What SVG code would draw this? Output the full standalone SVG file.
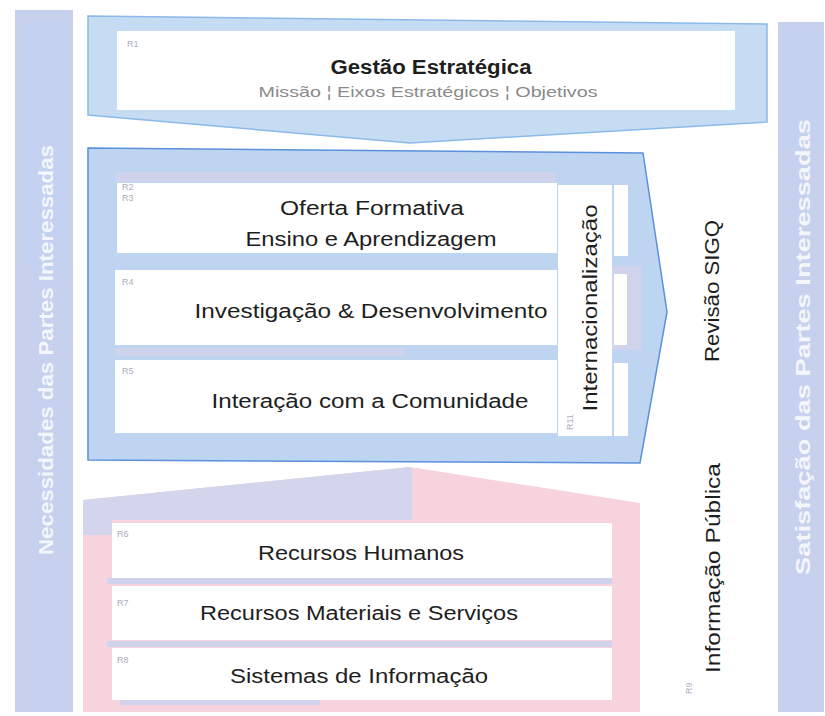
<svg xmlns="http://www.w3.org/2000/svg" width="825" height="716" viewBox="0 0 825 716">
<style>
.t{font-family:"Liberation Sans","DejaVu Sans",sans-serif;font-size:20px;fill:#1e1e1e;text-anchor:middle}
.b{font-weight:bold}
.sub{font-family:"Liberation Sans",sans-serif;font-size:15px;fill:#8a8a8a;text-anchor:middle}
.side{font-family:"Liberation Sans",sans-serif;font-size:20px;font-weight:bold;fill:#f4f6fc;text-anchor:middle}
.r{font-family:"Liberation Sans",sans-serif;font-size:9px;fill:#a9aec0}
.box{fill:#ffffff}
.lav{fill:#cfd3ec}
</style>
<rect width="825" height="716" fill="#ffffff"/>

<g id="necessidades">
<rect x="15" y="10" width="58" height="702" fill="#c7d0ed"/>
<rect x="22" y="20" width="44" height="250" fill="#c1d2f2" opacity="0.6"/>
<text class="side" transform="translate(53,350) rotate(-90)" textLength="410" lengthAdjust="spacingAndGlyphs">Necessidades das Partes Interessadas</text>
</g>

<g id="satisfacao">
<rect x="778" y="22" width="46" height="690" fill="#c7d0ed"/>
<rect x="782" y="30" width="38" height="120" fill="#c1d4f2" opacity="0.6"/>
<text class="side" transform="translate(810,347) rotate(-90)" textLength="456" lengthAdjust="spacingAndGlyphs">Satisfação das Partes Interessadas</text>
</g>

<g id="gestao">
<polygon points="88,16 767,24 767,122 410,143 88,115" fill="#c6dcf3" stroke="#8db9ea" stroke-width="1.5"/>
<rect x="117" y="31" width="618" height="79" class="box"/>
<text class="r" x="127" y="47">R1</text>
<text class="t b" x="431" y="74" textLength="201" lengthAdjust="spacingAndGlyphs">Gestão Estratégica</text>
<text class="sub" x="428" y="97" textLength="339" lengthAdjust="spacingAndGlyphs">Missão ¦ Eixos Estratégicos ¦ Objetivos</text>
</g>

<g id="processos">
<polygon points="88,148 643,153 667,312 640,463 88,460" fill="#bed5f1" stroke="#5b90dc" stroke-width="1.5"/>
<rect x="115" y="172" width="440" height="10" class="lav"/>
<rect x="612" y="266" width="30" height="84" class="lav"/>
<rect x="115" y="348" width="290" height="8" class="lav"/>
</g>

<g id="oferta">
<rect x="117" y="183" width="440" height="70" class="box"/>
<text class="r" x="122" y="190">R2</text>
<text class="r" x="122" y="201">R3</text>
<text class="t" x="372" y="215" textLength="184" lengthAdjust="spacingAndGlyphs">Oferta Formativa</text>
<text class="t" x="371" y="246" textLength="251" lengthAdjust="spacingAndGlyphs">Ensino e Aprendizagem</text>
</g>

<g id="investigacao">
<rect x="115" y="270" width="442" height="75" class="box"/>
<text class="r" x="122" y="285">R4</text>
<text class="t" x="371" y="318" textLength="353" lengthAdjust="spacingAndGlyphs">Investigação &amp; Desenvolvimento</text>
</g>

<g id="interacao">
<rect x="115" y="360" width="442" height="73" class="box"/>
<text class="r" x="122" y="374">R5</text>
<text class="t" x="370" y="408" textLength="317" lengthAdjust="spacingAndGlyphs">Interação com a Comunidade</text>
</g>

<g id="internacionalizacao">
<rect x="558" y="185" width="54" height="251" class="box"/>
<rect x="614" y="185" width="14" height="71" class="box"/>
<rect x="614" y="274" width="13" height="71" class="box"/>
<rect x="614" y="363" width="14" height="73" class="box"/>
<text class="t" transform="translate(597,308) rotate(-90)" textLength="207" lengthAdjust="spacingAndGlyphs">Internacionalização</text>
<text class="r" transform="translate(573,430) rotate(-90)">R11</text>
</g>

<g id="revisao">
<text class="t" transform="translate(719,291) rotate(-90)" textLength="142" lengthAdjust="spacingAndGlyphs">Revisão SIGQ</text>
</g>

<g id="suporte">
<polygon points="83,500 410,467 640,503 640,712 83,712" fill="#f6d3dd"/>
<polygon points="83,500 410,467 412,470 412,520 112,520 112,535 83,535" fill="#d2d5eb"/>
<rect x="107" y="578" width="505" height="6" class="lav"/>
<rect x="107" y="641" width="505" height="6" class="lav"/>
<rect x="120" y="700" width="200" height="5" class="lav"/>
</g>

<g id="rh">
<rect x="112" y="523" width="500" height="55" class="box"/>
<text class="r" x="117" y="537">R6</text>
<text class="t" x="361" y="560" textLength="206" lengthAdjust="spacingAndGlyphs">Recursos Humanos</text>
</g>

<g id="rms">
<rect x="112" y="586" width="500" height="54" class="box"/>
<text class="r" x="117" y="606">R7</text>
<text class="t" x="359" y="620" textLength="318" lengthAdjust="spacingAndGlyphs">Recursos Materiais e Serviços</text>
</g>

<g id="si">
<rect x="112" y="648" width="500" height="52" class="box"/>
<text class="r" x="117" y="663">R8</text>
<text class="t" x="359" y="683" textLength="258" lengthAdjust="spacingAndGlyphs">Sistemas de Informação</text>
</g>

<g id="informacao">
<text class="t" transform="translate(720,568) rotate(-90)" textLength="210" lengthAdjust="spacingAndGlyphs">Informação Pública</text>
<text class="r" transform="translate(692,694) rotate(-90)">R9</text>
</g>

<g id="connectors"/>
</svg>
